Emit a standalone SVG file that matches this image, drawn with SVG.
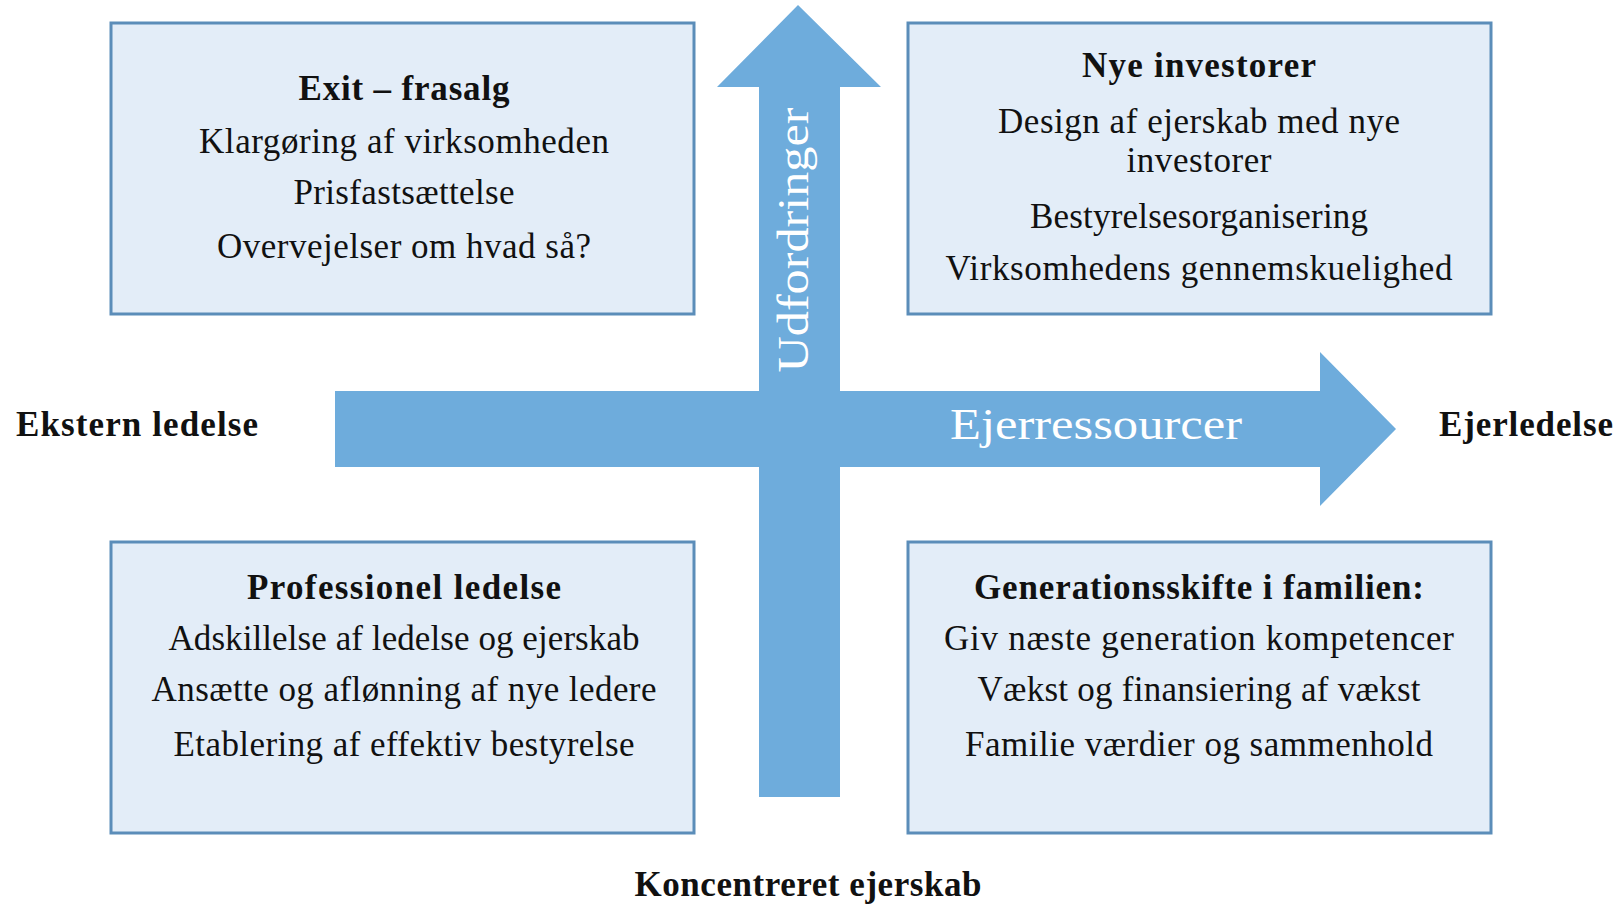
<svg xmlns="http://www.w3.org/2000/svg" width="1624" height="904" viewBox="0 0 1624 904">
<style>
.box{fill:#E3EDF8;stroke:#5B8DB9;stroke-width:3}
.arr{fill:#6EACDC}
text{font-family:"Liberation Serif","Times New Roman",serif;fill:#111;text-anchor:middle}
.b{font-weight:bold;font-size:35px}
.r{font-size:35px}
.w{fill:#fff;font-size:44px}
</style>
<rect width="1624" height="904" fill="#fff"/>
<g id="connectors">
<polygon class="arr" points="335,391 1320,391 1320,352 1396,429 1320,506 1320,467 335,467"/>
<polygon class="arr" points="798,5 881,87 840,87 840,797 759,797 759,87 717,87"/>
<text class="w" x="1096" y="439" textLength="292" lengthAdjust="spacingAndGlyphs">Ejerressourcer</text>
<text class="w" transform="translate(808,240) rotate(-90)" x="0" y="0" textLength="265" lengthAdjust="spacingAndGlyphs">Udfordringer</text>
</g>
<g id="node-exit">
<rect class="box" x="111" y="23" width="583" height="291"/>
<text class="b" x="404" y="100" textLength="211">Exit – frasalg</text>
<text class="r" x="404" y="153" textLength="410">Klargøring af virksomheden</text>
<text class="r" x="404" y="204" textLength="221">Prisfastsættelse</text>
<text class="r" x="404" y="258" textLength="374">Overvejelser om hvad så?</text>
</g>
<g id="node-investorer">
<rect class="box" x="908" y="23" width="583" height="291"/>
<text class="b" x="1199" y="77" textLength="234">Nye investorer</text>
<text class="r" x="1199" y="133" textLength="402">Design af ejerskab med nye</text>
<text class="r" x="1199" y="172" textLength="145">investorer</text>
<text class="r" x="1199" y="228" textLength="338">Bestyrelsesorganisering</text>
<text class="r" x="1199" y="280" textLength="507">Virksomhedens gennemskuelighed</text>
</g>
<g id="node-professionel">
<rect class="box" x="111" y="542" width="583" height="291"/>
<text class="b" x="404" y="599" textLength="314">Professionel ledelse</text>
<text class="r" x="404" y="650" textLength="471">Adskillelse af ledelse og ejerskab</text>
<text class="r" x="404" y="701" textLength="505">Ansætte og aflønning af nye ledere</text>
<text class="r" x="404" y="756" textLength="461">Etablering af effektiv bestyrelse</text>
</g>
<g id="node-generation">
<rect class="box" x="908" y="542" width="583" height="291"/>
<text class="b" x="1199" y="599" textLength="450">Generationsskifte i familien:</text>
<text class="r" x="1199" y="650" textLength="510">Giv næste generation kompetencer</text>
<text class="r" x="1199" y="701" textLength="443">Vækst og finansiering af vækst</text>
<text class="r" x="1199" y="756" textLength="468">Familie værdier og sammenhold</text>
</g>
<g id="label-ekstern">
<text class="b" x="137" y="436" textLength="242">Ekstern ledelse</text>
</g>
<g id="label-ejerledelse">
<text class="b" x="1526" y="436" textLength="174">Ejerledelse</text>
</g>
<g id="label-koncentreret">
<text class="b" x="808" y="896" textLength="347">Koncentreret ejerskab</text>
</g>
</svg>
